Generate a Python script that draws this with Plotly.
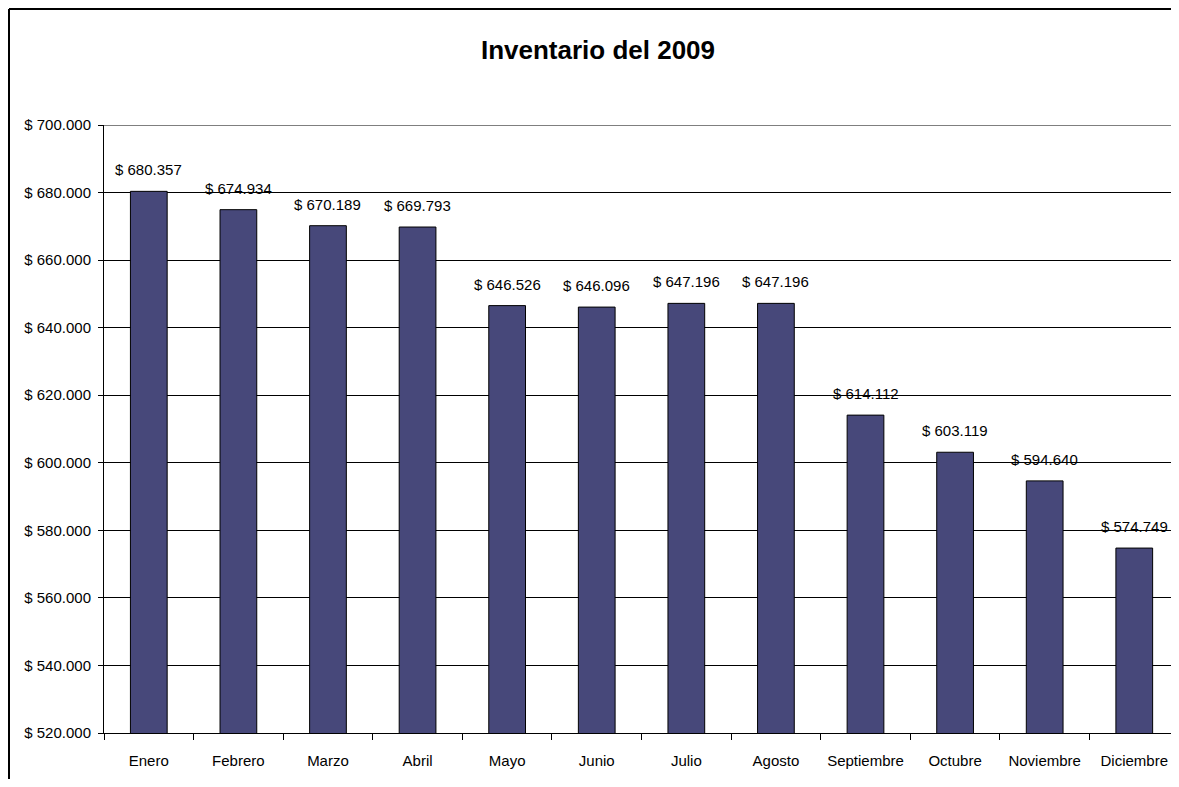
import plotly.graph_objects as go

meses = ["Enero", "Febrero", "Marzo", "Abril", "Mayo", "Junio", "Julio",
         "Agosto", "Septiembre", "Octubre", "Noviembre", "Diciembre"]
inventario = [680357, 674934, 670189, 669793, 646526, 646096, 647196,
              647196, 614112, 603119, 594640, 574749]
y_ticks = [520000, 540000, 560000, 580000, 600000, 620000, 640000,
           660000, 680000, 700000]


def fmt(v):
    return "$ " + f"{v:,}".replace(",", ".")


FONT = "Liberation Sans, Arial, sans-serif"
# page is shown with an 8px body margin, so the figure is sized to fit the window
W, H = 1163, 771
ML, MR, MT, MB = 96, 0, 117, 46

fig = go.Figure()
fig.add_trace(go.Bar(
    x=meses, y=inventario,
    marker=dict(color="#47487A", line=dict(color="#000000", width=1)),
    hoverinfo="skip",
))

for m, v in zip(meses, inventario):
    fig.add_annotation(x=m, y=v, text=fmt(v), showarrow=False,
                       yanchor="bottom", yshift=11,
                       font=dict(family=FONT, size=15, color="#000000"))

# top gridline at the upper end of the value axis
fig.add_shape(type="line", xref="paper", yref="y",
              x0=0, x1=1, y0=y_ticks[-1], y1=y_ticks[-1],
              line=dict(color="#000000", width=1))

# outer chart border (left and top visible)
pw = W - ML - MR
ph = H - MT - MB
x_left = (1 - ML) / pw
y_top = (H - MB - 1) / ph
fig.add_shape(type="line", xref="paper", yref="paper",
              x0=x_left, x1=1.05, y0=y_top, y1=y_top,
              line=dict(color="#000000", width=2))
fig.add_shape(type="line", xref="paper", yref="paper",
              x0=x_left, x1=x_left, y0=y_top, y1=-0.2,
              line=dict(color="#000000", width=2))

fig.update_layout(
    width=W, height=H,
    margin=dict(l=ML, r=MR, t=MT, b=MB),
    paper_bgcolor="#FFFFFF", plot_bgcolor="#FFFFFF",
    bargap=0.59,
    showlegend=False,
    font=dict(family=FONT, size=15, color="#000000"),
    title=dict(text="<b>Inventario del 2009</b>", x=590 / W, xref="container",
               xanchor="center", y=1 - 42 / H, yref="container", yanchor="middle",
               font=dict(family=FONT, size=26, color="#000000")),
    xaxis=dict(
        showline=True, linecolor="#000000", linewidth=1,
        ticks="outside", ticklen=6, tickcolor="#000000", tickson="boundaries",
        ticklabelstandoff=14,
        showgrid=False, range=[-0.5, 11.41],
        tickfont=dict(family=FONT, size=15, color="#000000"),
    ),
    yaxis=dict(
        range=[520000, 700000], tickvals=y_ticks,
        ticktext=[fmt(v) for v in y_ticks],
        showline=True, linecolor="#000000", linewidth=1,
        ticks="outside", ticklen=5, tickcolor="#000000",
        ticklabelstandoff=4,
        showgrid=True, gridcolor="#000000", gridwidth=1,
        zeroline=False,
        tickfont=dict(family=FONT, size=15, color="#000000"),
    ),
)

fig.write_html("out.html")
